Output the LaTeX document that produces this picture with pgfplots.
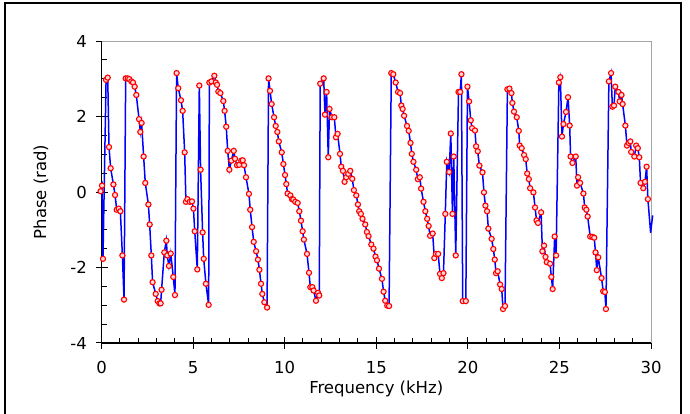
\documentclass[border=0pt]{standalone}
\usepackage{pgfplots}
\pgfplotsset{compat=1.18}
\usepackage{fontspec}
\setmainfont{DejaVu Sans}
\begin{document}
\fontsize{16.5}{20}\selectfont
\begin{tikzpicture}[x=1pt,y=1pt]
\useasboundingbox (0,0) rectangle (690,414);
\draw[line width=2pt] (4.5,-10) rectangle (680.5,411);
\begin{axis}[
  at={(101.5pt,71pt)}, anchor=south west,
  scale only axis, width=549.5pt, height=302pt,
  xmin=0, xmax=30, ymin=-4, ymax=4,
  clip=false,
  axis lines*=left,
  axis line style={black, line width=1.1pt},
  xtick={0,5,10,15,20,25,30},
  xticklabels={0,5,10,15,20,25,30},
  ytick={-4,-2,0,2,4},
  yticklabels={-4,-2,0,2,4},
  minor x tick num=4,
  minor y tick num=3,
  tick align=inside,
  major tick length=12pt,
  minor tick length=5pt,
  tick style={black, line width=1pt},
  every major x tick/.append style={yshift=-6pt},
  every major y tick/.append style={xshift=-6pt},
  xticklabel style={yshift=-13pt},
  yticklabel style={xshift=-9pt},
  xlabel={Frequency (kHz)},
  ylabel={Phase (rad)},
  xlabel style={at={(axis description cs:0.5,-0.152)}, anchor=center},
  ylabel style={at={(axis description cs:-0.110,0.5)}, anchor=center},
]
\draw[gray!70, line width=1pt] (rel axis cs:0,1) -- (rel axis cs:1,1) -- (rel axis cs:1,0);
\addplot[blue, line width=1.5pt, forget plot] coordinates {(29.83,-0.19) (29.98,-1.08) (30.09,-0.62)};
\addplot[blue, line width=1.5pt, mark=*, mark size=2.6pt,
  mark options={draw=red, fill=red!15, line width=1.1pt, solid}] coordinates {
(-0.05,0.02) (0.03,0.17) (0.08,-1.77) (0.25,2.97) (0.34,3.03) (0.41,1.19) (0.50,0.63)
(0.65,0.20) (0.74,-0.08) (0.83,-0.47) (0.94,-0.44) (1.03,-0.51) (1.14,-1.68) (1.23,-2.85)
(1.32,3.01) (1.43,3.01) (1.52,2.99) (1.63,2.93) (1.72,2.90) (1.81,2.79) (1.90,2.57)
(2.05,1.93) (2.12,1.59) (2.19,1.83) (2.30,0.94) (2.39,0.24) (2.56,-0.33) (2.63,-0.86)
(2.72,-1.68) (2.79,-2.39) (2.96,-2.70) (3.07,-2.89) (3.16,-2.95) (3.23,-2.95) (3.28,-2.59)
(3.43,-1.60) (3.54,-1.29) (3.59,-1.68) (3.68,-1.96) (3.78,-1.63) (3.92,-2.25) (4.01,-2.73)
(4.10,3.15) (4.19,2.75) (4.34,2.43) (4.43,2.15) (4.54,1.05) (4.61,-0.26) (4.69,-0.19)
(4.82,-0.26) (4.94,-0.25) (5.02,-0.44) (5.09,-1.04) (5.23,-2.05) (5.34,2.82) (5.41,0.59)
(5.52,-1.07) (5.58,-1.77) (5.70,-2.43) (5.85,-2.99) (5.89,2.90) (6.00,2.93) (6.16,3.08)
(6.24,2.90) (6.31,2.84) (6.38,2.66) (6.49,2.62) (6.65,2.41) (6.72,2.15) (6.81,1.73)
(6.89,1.09) (6.98,0.59) (7.09,0.83) (7.22,1.09) (7.29,0.88) (7.40,0.71) (7.52,0.72)
(7.63,0.83) (7.71,0.84) (7.78,0.71) (7.89,0.39) (8.05,-0.05) (8.12,-0.47) (8.22,-0.93)
(8.31,-1.32) (8.44,-1.57) (8.54,-1.79) (8.62,-2.06) (8.71,-2.43) (8.78,-2.70) (8.89,-2.92)
(9.04,-3.06) (9.12,3.01) (9.20,2.68) (9.29,2.33) (9.42,1.98) (9.51,1.75) (9.60,1.59)
(9.68,1.34) (9.84,1.05) (9.93,0.74) (10.02,0.45) (10.09,0.21) (10.16,-0.04) (10.31,-0.09)
(10.40,-0.19) (10.47,-0.20) (10.58,-0.26) (10.71,-0.29) (10.80,-0.51) (10.89,-0.76)
(10.98,-1.04) (11.05,-1.26) (11.22,-1.64) (11.33,-2.14) (11.40,-2.52) (11.51,-2.52)
(11.58,-2.61) (11.71,-2.88) (11.82,-2.67) (11.89,-2.74) (11.94,2.87) (12.13,3.01)
(12.20,2.05) (12.29,2.65) (12.38,0.92) (12.45,2.20) (12.58,1.98) (12.71,1.98) (12.80,1.45)
(12.89,1.54) (13.02,1.01) (13.09,0.67) (13.18,0.56) (13.27,0.27) (13.36,0.39) (13.47,0.48)
(13.58,0.56) (13.69,0.35) (13.78,0.05) (13.91,-0.09) (14.00,-0.33) (14.07,-0.51)
(14.16,-0.58) (14.25,-0.71) (14.40,-0.86) (14.49,-1.06) (14.58,-1.17) (14.73,-1.39)
(14.85,-1.50) (14.96,-1.71) (15.04,-1.81) (15.15,-2.03) (15.31,-2.30) (15.40,-2.64)
(15.49,-2.88) (15.60,-3.01) (15.70,-3.02) (15.82,3.15) (15.93,3.12) (16.06,2.90)
(16.19,2.65) (16.30,2.62) (16.37,2.29) (16.44,2.20) (16.52,2.02) (16.68,1.75) (16.77,1.62)
(16.87,1.30) (16.94,1.01) (17.03,0.80) (17.18,0.59) (17.27,0.34) (17.38,0.39) (17.45,0.09)
(17.58,-0.26) (17.68,-0.51) (17.78,-0.71) (17.86,-0.90) (17.94,-1.16) (18.08,-1.10)
(18.17,-1.75) (18.26,-1.64) (18.38,-1.64) (18.48,-2.17) (18.58,-2.28) (18.67,-2.15)
(18.77,-0.58) (18.85,0.80) (18.98,0.53) (19.07,1.55) (19.16,-0.58) (19.23,0.94)
(19.34,-1.68) (19.49,2.65) (19.58,2.65) (19.65,3.12) (19.72,-2.89) (19.89,-2.89)
(19.98,2.79) (20.07,2.40) (20.16,1.90) (20.23,1.69) (20.39,1.63) (20.45,1.21) (20.54,1.08)
(20.63,0.70) (20.80,0.52) (20.88,-0.01) (20.96,-0.36) (21.05,-0.51) (21.12,-0.97)
(21.30,-1.24) (21.39,-1.51) (21.47,-1.79) (21.54,-2.15) (21.63,-2.10) (21.76,-2.45)
(21.85,-2.57) (21.92,-3.10) (22.03,-3.02) (22.16,2.72) (22.27,2.74) (22.38,2.62)
(22.43,2.36) (22.52,2.13) (22.67,1.98) (22.78,1.62) (22.83,1.23) (22.94,1.16) (23.07,0.98)
(23.16,0.87) (23.24,0.49) (23.33,0.34) (23.40,0.10) (23.58,-0.01) (23.67,-0.41)
(23.75,-0.75) (23.83,-0.82) (24.00,-0.54) (24.07,-1.57) (24.16,-1.42) (24.24,-1.72)
(24.31,-1.86) (24.49,-1.90) (24.56,-2.25) (24.63,-2.57) (24.74,-1.18) (24.82,-1.68)
(24.97,2.90) (25.05,3.04) (25.14,1.47) (25.22,1.80) (25.36,2.12) (25.47,2.51) (25.56,1.76)
(25.61,0.94) (25.71,0.77) (25.89,0.94) (25.96,0.17) (26.02,0.39) (26.13,0.24) (26.31,-0.04)
(26.38,-0.41) (26.47,-0.47) (26.54,-0.65) (26.68,-1.18) (26.80,-1.19) (26.90,-1.21)
(26.97,-1.60) (27.04,-2.07) (27.12,-1.73) (27.30,-2.28) (27.39,-2.63) (27.48,-2.65)
(27.54,-3.10) (27.70,2.93) (27.82,3.15) (27.89,2.26) (27.98,2.29) (28.05,2.79) (28.22,2.65)
(28.29,2.40) (28.39,2.57) (28.45,2.33) (28.60,1.76) (28.69,1.23) (28.78,1.30) (28.87,1.34)
(28.92,1.06) (29.09,0.94) (29.19,1.23) (29.28,1.16) (29.36,0.92) (29.43,0.24) (29.58,0.10)
(29.67,0.27) (29.76,0.67) (29.83,-0.19)
};
\end{axis}
\end{tikzpicture}
\end{document}
